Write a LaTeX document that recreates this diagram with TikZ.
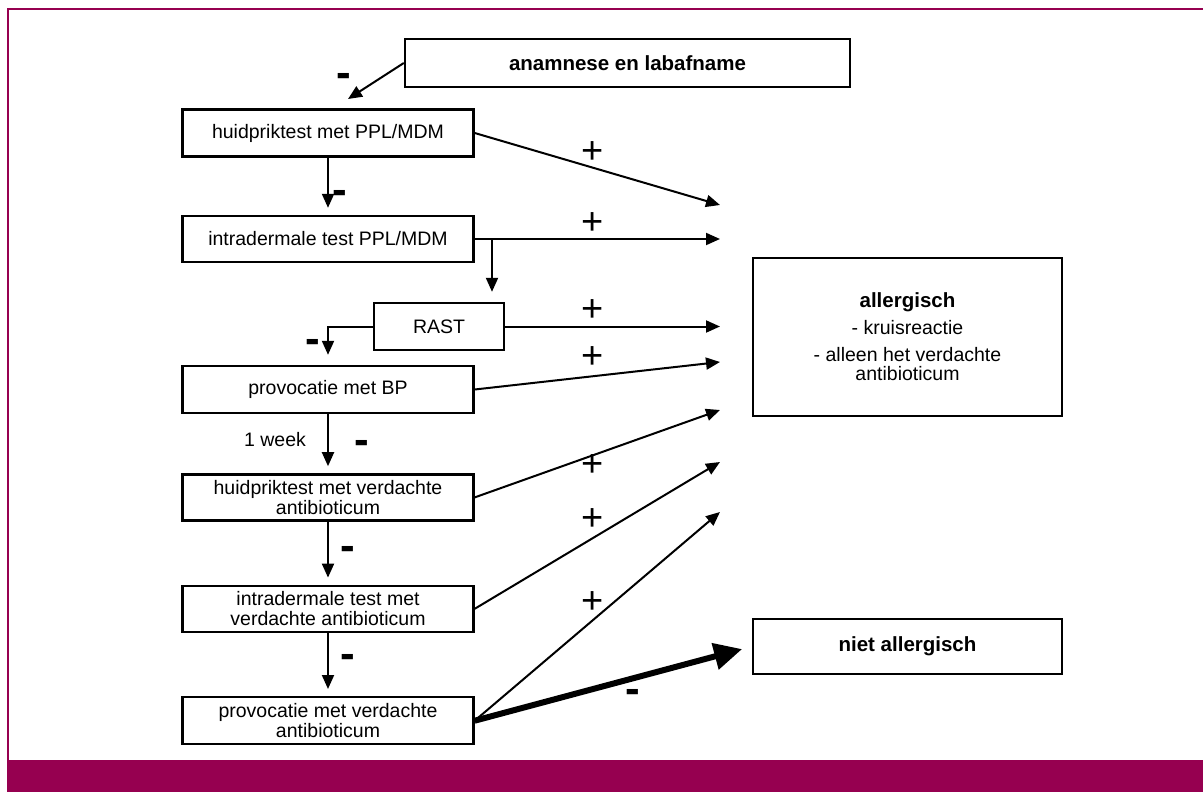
\documentclass[tikz,border=0pt]{standalone}
\usepackage{fontspec}
\setmainfont{Liberation Sans}
\usetikzlibrary{positioning, arrows.meta}
\definecolor{wijnrood}{RGB}{150,0,80}

\tikzset{
  vak/.style={draw, line width=2.4pt, minimum width=291pt, minimum height=47pt,
    align=center, inner sep=2pt, font=\fontsize{19.5}{20}\selectfont},
  vet/.style={font=\fontsize{20.5}{22}\bfseries},
  plusteken/.style={font=\fontsize{38}{38}\selectfont, inner sep=0pt},
  minteken/.style={font=\fontsize{44}{44}\bfseries, inner sep=0pt, anchor=base},
  pijl/.style={-{Triangle[length=14pt,width=12pt]}, line width=2pt},
  dikkepijl/.style={-{Triangle[length=28pt,width=26pt]}, line width=6pt},
}

\begin{document}
\begin{tikzpicture}[x=1pt, y=-1pt]
  \useasboundingbox (0,0) rectangle (1203,792);
  % kader
  \fill[wijnrood] (7,760) rectangle (1203,792);
  \draw[wijnrood, line width=2.4pt] (8,761) -- (8,9) -- (1203,9);

  % vakken
  \node [vak, vet, minimum width=445pt, minimum height=48pt] (anam) at (627.5,63) {anamnese en labafname};
  \node [vak] (b1) at (328,133) {huidpriktest met PPL/MDM};
  \node [vak, minimum height=46pt] (b2) at (328,239) {intradermale test PPL/MDM};
  \node [vak, minimum width=130pt] (rast) at (439,326.5) {RAST};
  \node [vak] (b3) at (328,389.5) {provocatie met BP};
  \node [vak, minimum height=46pt] (b4) [below=59pt of b3] {huidpriktest met verdachte\\antibioticum};
  \node [vak, minimum height=46pt] (b5) [below=63pt of b4] {intradermale test met\\verdachte antibioticum};
  \node [vak] (b6) [below=63pt of b5] {provocatie met verdachte\\antibioticum};
  \node [vak, minimum width=309pt, minimum height=158pt, font=\fontsize{19.5}{19}\selectfont] (allerg) at (907.5,337)
    {{\fontsize{20.5}{22}\bfseries allergisch}\\[8pt] - kruisreactie\\[8pt] - alleen het verdachte\\antibioticum};
  \node [vak, vet, minimum width=309pt, minimum height=55pt] (niet) at (907.5,646.5) {niet allergisch};

  % losse eindpunten
  \coordinate (s0) at (348,99);
  \coordinate (j2) at (492,239);
  \coordinate (t1) at (720,205);
  \coordinate (t2) at (720,239);
  \coordinate (t3) at (720,326.5);
  \coordinate (t4) at (720,362);
  \coordinate (t5) at (720,410);
  \coordinate (t6) at (720,462);
  \coordinate (t7) at (720,512);

  % pijlen
  \draw [pijl] (anam.west) -- (s0);
  \draw [pijl, shorten >=7pt] (b1) -- (b2);
  \draw [pijl, shorten >=10pt] (j2) -- (j2 |- rast.north);
  \draw [pijl, shorten >=10pt] (rast.west) -| (b3.north);
  \draw [pijl, shorten >=7pt] (b3) -- (b4);
  \draw [pijl, shorten >=7pt] (b4) -- (b5);
  \draw [pijl, shorten >=7pt] (b5) -- (b6);
  \draw [pijl] (b1.east) -- (t1);
  \draw [pijl] (b2.east) -- (t2);
  \draw [pijl] (rast.east) -- (t3);
  \draw [pijl] (b3.east) -- (t4);
  \draw [pijl] (b4.east) -- (t5);
  \draw [pijl] (b5.east) -- (t6);
  \draw [pijl] (b6.east) -- (t7);
  \draw [dikkepijl, shorten >=10pt] (b6.east) -- (niet.west);

  % tekens
  \foreach \y in {153,224,311,358,466,520,603}
    \node [plusteken] at (593,\y) {+};
  \node [minteken] at (344,88) {-};
  \node [minteken] at (340,204) {-};
  \node [minteken] at (313,353) {-};
  \node [minteken] at (362,454) {-};
  \node [minteken] at (348,560) {-};
  \node [minteken] at (348,668) {-};
  \node [minteken] at (633,703) {-};
  \node [font=\fontsize{19.5}{20}\selectfont] (week) at (275,440) {1 week};
\end{tikzpicture}
\end{document}
